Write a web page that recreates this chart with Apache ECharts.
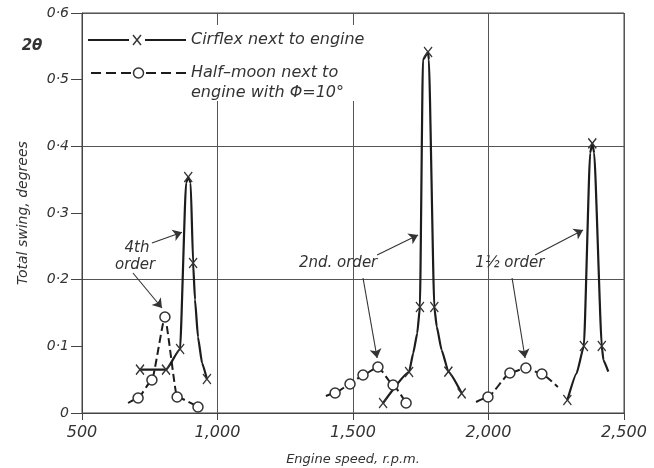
<!DOCTYPE html>
<html><head><meta charset="utf-8">
<script src="https://cdn.jsdelivr.net/npm/echarts@6/dist/echarts.min.js"></script>
<style>html,body{margin:0;padding:0;background:#fff}#c{width:654px;height:468px}</style>
</head><body><div id="c"></div>
<script>
// ---------- data ----------
const xTicks = [500, 1000, 1500, 2000, 2500];
const xTickLabels = ['500', '1,000', '1,500', '2,000', '2,500'];
const yTickLabels = ['0', '0·1', '0·2', '0·3', '0·4', '0·5', '0·6'];

// Cirflex next to engine (measured points flagged 1, curve trace points 0)
const cirflex4thRpm      = [714, 810, 862, 884, 892, 901, 910, 917, 928, 943, 961];
const cirflex4thSwing    = [0.065, 0.065, 0.096, 0.345, 0.354, 0.345, 0.225, 0.17, 0.114, 0.075, 0.051];
const cirflex4thMeasured = [1, 1, 1, 0, 1, 0, 1, 0, 0, 0, 1];

const cirflex2ndRpm      = [1611, 1707, 1722, 1737, 1747, 1758, 1777, 1780, 1800, 1809, 1827, 1852, 1901];
const cirflex2ndSwing    = [0.015, 0.0615, 0.0895, 0.1195, 0.159, 0.53, 0.5415, 0.53, 0.159, 0.1295, 0.0945, 0.062, 0.0295];
const cirflex2ndMeasured = [1, 1, 0, 0, 1, 0, 1, 0, 1, 0, 0, 1, 1];

const cirflex15Rpm       = [2291, 2325, 2352, 2375, 2383, 2390, 2418, 2424, 2442];
const cirflex15Swing     = [0.0195, 0.0595, 0.1005, 0.39, 0.4045, 0.39, 0.1005, 0.0795, 0.062];
const cirflex15Measured  = [1, 0, 1, 0, 1, 0, 1, 0, 0];

// Half-moon next to engine with phi = 10 deg
const halfMoon4thRpm      = [670, 707, 758, 806, 851, 928];
const halfMoon4thSwing    = [0.015, 0.0225, 0.0495, 0.144, 0.024, 0.009];
const halfMoon4thMeasured = [0, 1, 1, 1, 1, 1];

const halfMoon2ndRpm      = [1400, 1434, 1489, 1537, 1592, 1648, 1696];
const halfMoon2ndSwing    = [0.0255, 0.03, 0.0435, 0.057, 0.069, 0.042, 0.015];
const halfMoon2ndMeasured = [0, 1, 1, 1, 1, 1, 1];

const halfMoon15Rpm      = [1954, 1998, 2079, 2138, 2197, 2256];
const halfMoon15Swing    = [0.0165, 0.024, 0.06, 0.0675, 0.0585, 0.039];
const halfMoon15Measured = [0, 1, 1, 1, 1, 0];

const seriesNames = ['Cirflex next to engine', 'Half–moon next to engine with Φ=10°'];

// ---------- chart ----------
const INK = '#1c1c1c';
const TXT = '#333';
const FONT = 'DejaVu Sans';
const XPATH = 'path://M0,0L10,12M10,0L0,12';

function pts(rpm, sw, meas) {
  return rpm.map((r, i) => meas[i] ? [r, sw[i]] : { value: [r, sw[i]], symbol: 'none' });
}
function cirflex(rpm, sw, meas, extra) {
  return Object.assign({
    name: seriesNames[0], type: 'line', yAxisIndex: 0,
    data: pts(rpm, sw, meas), showAllSymbol: true,
    symbol: XPATH, symbolSize: [8, 10], smooth: 0.15, smoothMonotone: 'x',
    lineStyle: { color: INK, width: 2.2 },
    itemStyle: { color: 'transparent', borderColor: '#333', borderWidth: 1.4 },
    z: 3, silent: true
  }, extra || {});
}
function halfMoon(rpm, sw, meas) {
  return {
    name: seriesNames[1], type: 'line', yAxisIndex: 0,
    data: pts(rpm, sw, meas), showAllSymbol: true,
    symbol: 'circle', symbolSize: 10, smooth: 0.15, smoothMonotone: 'x',
    lineStyle: { color: INK, width: 2, type: [8, 4] },
    itemStyle: { color: '#fff', borderColor: '#333', borderWidth: 1.5 },
    z: 4, silent: true
  };
}

const arrows = [
  [[758, 0.255], [869, 0.271]],
  [[688, 0.21], [795, 0.1575]],
  [[1589, 0.237], [1740, 0.267]],
  [[1537, 0.2025], [1589, 0.0825]],
  [[2172, 0.237], [2349, 0.2745]],
  [[2087, 0.2025], [2135, 0.0825]]
];

const chart = echarts.init(document.getElementById('c'), null, { renderer: 'canvas' });
const option = {
  animation: false,
  backgroundColor: '#fff',
  grid: { left: 82, right: 30, top: 13, bottom: 55, show: true, borderColor: '#444', borderWidth: 1,
          containLabel: false, outerBoundsMode: 'none' },
  xAxis: {
    type: 'value', min: 500, max: 2500, interval: 500,
    name: 'Engine speed, r.p.m.', nameLocation: 'middle', nameGap: 40,
    nameTextStyle: { fontFamily: FONT, fontStyle: 'italic', fontSize: 13, color: TXT },
    axisLine: { show: true, lineStyle: { color: '#444', width: 1 } },
    axisTick: { show: true, inside: false, length: 7, lineStyle: { color: '#444' } },
    axisLabel: { fontFamily: FONT, fontStyle: 'italic', fontSize: 16, color: TXT, margin: 12,
      formatter: v => xTickLabels[xTicks.indexOf(v)] },
    splitLine: { show: true, lineStyle: { color: '#555', width: 1 } }
  },
  yAxis: [{
    type: 'value', min: 0, max: 0.6, interval: 0.1,
    name: 'Total swing, degrees', nameLocation: 'middle', nameGap: 52,
    nameTextStyle: { fontFamily: FONT, fontStyle: 'italic', fontSize: 14, color: TXT },
    axisLine: { show: true, lineStyle: { color: '#444', width: 1 } },
    axisTick: { show: true, length: 11, lineStyle: { color: '#444' } },
    axisLabel: { fontFamily: FONT, fontStyle: 'italic', fontSize: 14, color: TXT, margin: 13,
      formatter: v => yTickLabels[Math.round(v * 10)] },
    splitLine: { show: false }
  }, {
    type: 'value', min: 0, max: 0.6, interval: 0.2, position: 'left',
    axisLine: { show: false }, axisTick: { show: false }, axisLabel: { show: false },
    splitLine: { show: true, lineStyle: { color: '#555', width: 1 } }
  }],
  series: [
    cirflex(cirflex4thRpm, cirflex4thSwing, cirflex4thMeasured, {
      markLine: {
        silent: true, symbol: ['none', 'arrow'], symbolSize: 9, animation: false,
        label: { show: false },
        lineStyle: { type: 'solid', color: '#333', width: 1.1 },
        data: arrows.map(a => [{ coord: a[0] }, { coord: a[1] }])
      }
    }),
    cirflex(cirflex2ndRpm, cirflex2ndSwing, cirflex2ndMeasured),
    cirflex(cirflex15Rpm, cirflex15Swing, cirflex15Measured),
    halfMoon(halfMoon4thRpm, halfMoon4thSwing, halfMoon4thMeasured),
    halfMoon(halfMoon2ndRpm, halfMoon2ndSwing, halfMoon2ndMeasured),
    halfMoon(halfMoon15Rpm, halfMoon15Swing, halfMoon15Measured)
  ]
};
chart.setOption(option);

// annotation labels placed in data coordinates
const notes = [
  { text: '4th', at: [703, 0.2475] },
  { text: 'order', at: [696, 0.222] },
  { text: '2nd. order', at: [1445, 0.225] },
  { text: '1½ order', at: [2079, 0.225] }
];
const txtStyle = (t, x, y, align, size) => ({
  type: 'text', z: 120, x: x, y: y,
  style: { text: t, fill: TXT, font: 'italic ' + (size || 15) + 'px "' + FONT + '"',
           textAlign: align || 'center', textVerticalAlign: 'middle' }
});
const g = [];
notes.forEach(n => {
  const p = chart.convertToPixel({ gridIndex: 0 }, n.at);
  g.push(txtStyle(n.text, p[0], p[1]));
});
// legend block
g.push({ type: 'rect', z: 100, shape: { x: 86, y: 25, width: 296, height: 76 }, style: { fill: '#fff' } });
const lineS = { stroke: INK, lineWidth: 2 };
g.push({ type: 'line', z: 110, shape: { x1: 88, y1: 40, x2: 129, y2: 40 }, style: lineS });
g.push({ type: 'line', z: 110, shape: { x1: 145, y1: 40, x2: 186, y2: 40 }, style: lineS });
g.push({ type: 'polyline', z: 110, shape: { points: [[133, 35], [141, 45]] }, style: { stroke: '#333', lineWidth: 1.4 } });
g.push({ type: 'polyline', z: 110, shape: { points: [[141, 35], [133, 45]] }, style: { stroke: '#333', lineWidth: 1.4 } });
g.push(txtStyle(seriesNames[0], 191, 40, 'left', 16));
const dashS = { stroke: INK, lineWidth: 2, lineDash: [10, 5] };
g.push({ type: 'line', z: 110, shape: { x1: 91, y1: 73, x2: 131, y2: 73 }, style: dashS });
g.push({ type: 'line', z: 110, shape: { x1: 146, y1: 73, x2: 186, y2: 73 }, style: dashS });
g.push({ type: 'circle', z: 110, shape: { cx: 138.5, cy: 73, r: 5 }, style: { fill: '#fff', stroke: '#333', lineWidth: 1.5 } });
g.push(txtStyle('Half–moon next to', 191, 73, 'left', 16));
g.push(txtStyle('engine with Φ=10°', 191, 93, 'left', 16));
// 2θ label
g.push({ type: 'text', z: 120, x: 32, y: 46,
  style: { text: '2θ', fill: TXT, font: 'italic bold 15px "' + FONT + '"', textAlign: 'center', textVerticalAlign: 'middle' } });
chart.setOption({ graphic: g });
</script></body></html>
